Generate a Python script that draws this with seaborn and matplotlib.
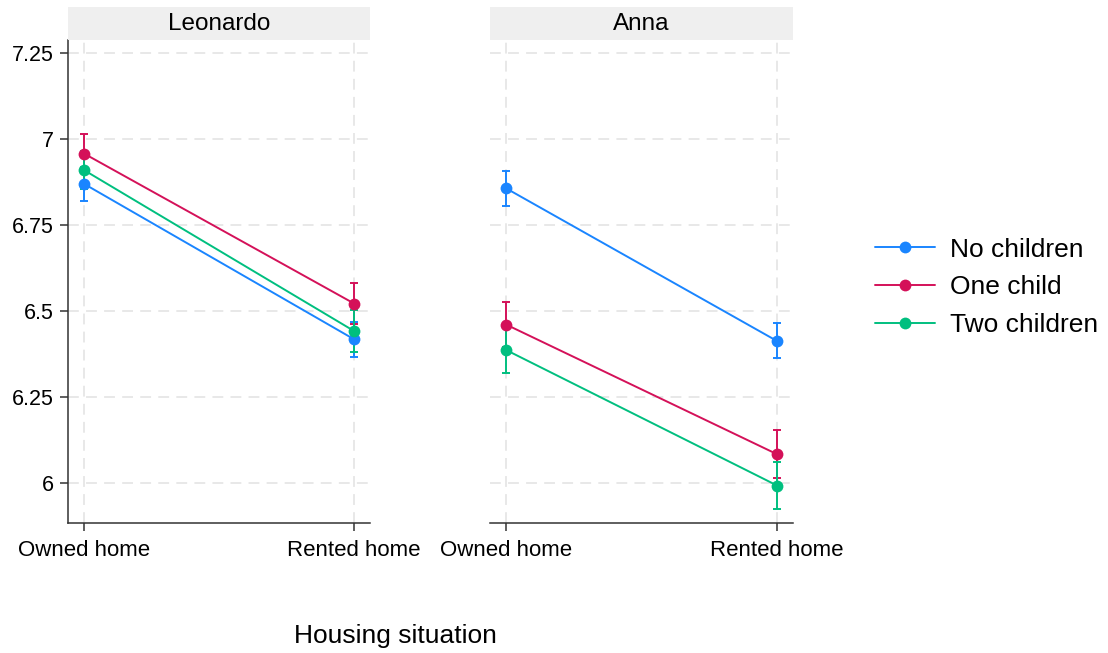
import matplotlib
matplotlib.use("Agg")
import matplotlib.pyplot as plt
import seaborn as sns
import pandas as pd
from matplotlib.lines import Line2D

# Predicted means with 95% confidence intervals by housing situation
housing = ["Owned home", "Rented home"]
groups = ["No children", "One child", "Two children"]
panels = ["Leonardo", "Anna"]

# values ordered as [group][housing]
leonardo_mean = [[6.870, 6.418], [6.958, 6.522], [6.910, 6.442]]
leonardo_lo = [[6.820, 6.367], [6.900, 6.462], [6.855, 6.382]]
leonardo_hi = [[6.920, 6.469], [7.016, 6.582], [6.965, 6.503]]

anna_mean = [[6.857, 6.413], [6.461, 6.084], [6.387, 5.993]]
anna_lo = [[6.806, 6.363], [6.397, 6.016], [6.321, 5.924]]
anna_hi = [[6.908, 6.464], [6.525, 6.154], [6.453, 6.060]]

yticks = [6, 6.25, 6.5, 6.75, 7, 7.25]
ytick_labels = ["6", "6.25", "6.5", "6.75", "7", "7.25"]

colors = ["#1a85ff", "#d41159", "#00bf7f"]

rows = []
for panel, means, los, his in [("Leonardo", leonardo_mean, leonardo_lo, leonardo_hi),
                               ("Anna", anna_mean, anna_lo, anna_hi)]:
    for gi, g in enumerate(groups):
        for hi_, h in enumerate(housing):
            rows.append(dict(panel=panel, group=g, housing=h, pos=hi_,
                             mean=means[gi][hi_], lo=los[gi][hi_], hi=his[gi][hi_]))
df = pd.DataFrame(rows)

sns.set_theme(style="white")
plt.rcParams["font.family"] = ["Liberation Sans", "DejaVu Sans"]
plt.rcParams["text.color"] = "black"

W, H = 1108, 653
fig = plt.figure(figsize=(W / 100, H / 100), dpi=100)

def fx(px):
    return px / W

def fy(py):
    return 1 - py / H

panel_px = {"Leonardo": (68, 370), "Anna": (490, 793)}
top, bottom = 40, 523
spine_col = "#333333"
grid_col = "#e6e6e6"
lw = 1.4
ms = 8.5

for panel in panels:
    x0, x1 = panel_px[panel]
    ax = fig.add_axes([fx(x0), fy(bottom), fx(x1 - x0), fy(top) - fy(bottom)])
    sub = df[df.panel == panel]
    sns.lineplot(data=sub, x="pos", y="mean", hue="group", hue_order=groups,
                 palette=colors, marker="o", markersize=ms, markeredgewidth=0,
                 linewidth=lw, legend=False, ax=ax, zorder=3)
    for gi, g in enumerate(groups):
        s = sub[sub.group == g]
        ax.errorbar(s.pos, s["mean"], yerr=[s["mean"] - s.lo, s.hi - s["mean"]],
                    fmt="none", ecolor=colors[gi], elinewidth=lw, capsize=3,
                    capthick=lw, zorder=2 + gi * 0.1)
    ax.set_xlim(-0.059, 1.059)
    ax.set_ylim(5.884, 7.288)
    ax.set_xticks([0, 1])
    ax.set_xticklabels(housing, fontsize=16, color="black")
    ax.set_yticks(yticks)
    ax.set_xlabel("")
    ax.set_ylabel("")
    ax.grid(True, color=grid_col, linestyle=(0, (6, 4)), linewidth=1.3)
    ax.set_axisbelow(True)
    for side in ["top", "right"]:
        ax.spines[side].set_visible(False)
    ax.spines["bottom"].set_color(spine_col)
    ax.spines["bottom"].set_linewidth(1.1)
    ax.tick_params(axis="x", bottom=True, length=6, width=1.1, color=spine_col,
                   pad=6.5, labelcolor="black")
    if panel == "Leonardo":
        ax.spines["left"].set_color(spine_col)
        ax.spines["left"].set_linewidth(1.1)
        ax.set_yticklabels(ytick_labels, fontsize=15.5, color="black")
        ax.tick_params(axis="y", left=True, length=6, width=1.1, color=spine_col,
                       pad=4, labelcolor="black")
    else:
        ax.spines["left"].set_visible(False)
        ax.tick_params(axis="y", left=False, labelleft=False)

    # strip header
    sax = fig.add_axes([fx(x0), fy(top), fx(x1 - x0), fy(7) - fy(top)])
    sax.set_facecolor("#efefef")
    sax.set_xticks([])
    sax.set_yticks([])
    for sp in sax.spines.values():
        sp.set_visible(False)
    sax.text(0.5, 0.5, panel, ha="center", va="center", fontsize=17.5,
             color="black", transform=sax.transAxes)

fig.text(fx(395), fy(636), "Housing situation", ha="center", va="center",
         fontsize=19, color="black")

handles = [Line2D([0], [0], color=c, marker="o", markersize=ms, markeredgewidth=0,
                  linewidth=lw) for c in colors]
fig.legend(handles, groups, loc="center left", bbox_to_anchor=(fx(875), fy(287.5)),
           frameon=False, fontsize=19, handlelength=2.27, handletextpad=0.57,
           labelspacing=0.53, borderpad=0, borderaxespad=0, labelcolor="black")

fig.savefig("out.png", dpi=100)
